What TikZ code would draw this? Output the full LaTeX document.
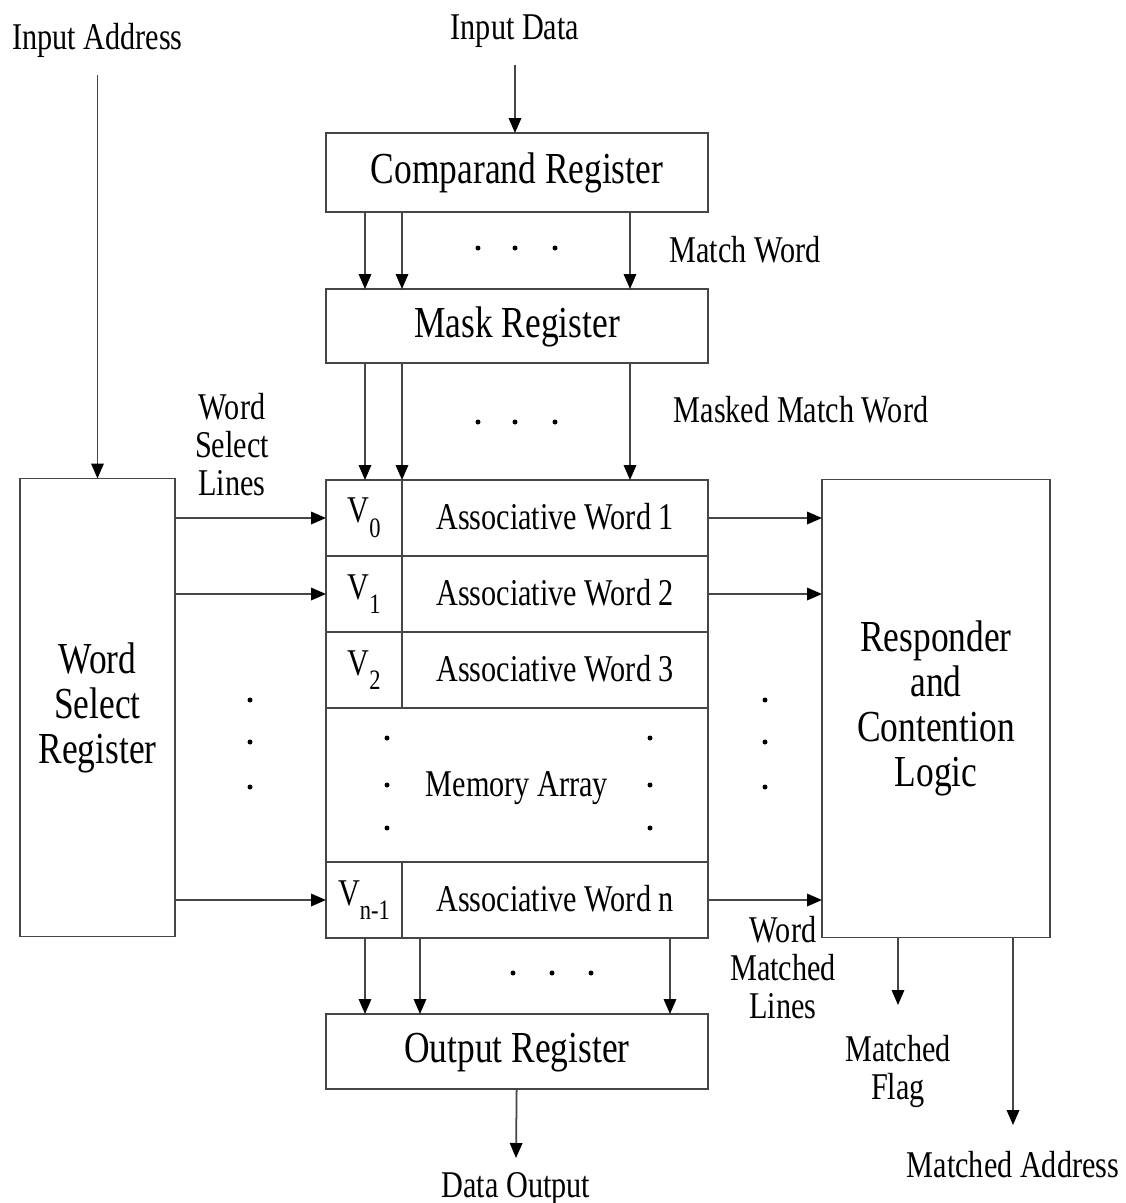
\documentclass[tikz,border=0pt]{standalone}
\usepackage{fontspec}
\setmainfont{Liberation Serif}[FakeStretch=0.8]
\usetikzlibrary{arrows.meta, positioning}
\definecolor{camline}{RGB}{70,70,70}
\newcommand{\bigtxt}{\fontsize{12.6}{12.8}\selectfont}
\newcommand{\midtxt}{\fontsize{10.75}{10.8}\selectfont}
\newcommand{\vsub}[1]{V\raisebox{-0.85ex}{\fontsize{8}{8}\selectfont #1}}
\tikzset{
    reg/.style={draw=camline, line width=0.5pt, minimum width=3.82cm, minimum height=0.76cm,
                inner sep=0pt, outer sep=0pt, font=\bigtxt, text height=0.7em, text depth=0.05em},
    vcell/.style={draw=camline, line width=0.5pt, minimum width=0.76cm, minimum height=0.76cm,
                  inner sep=0pt, outer sep=0pt, font=\midtxt},
    wcell/.style={vcell, minimum width=3.06cm, text height=0.7em, text depth=0.05em},
    tall/.style={draw=camline, line width=0.5pt, inner sep=0pt, outer sep=0pt, font=\bigtxt,
                 align=center, minimum height=4.58cm},
    lbl/.style={font=\midtxt, align=center, inner sep=1pt},
    arrow/.style={-{Triangle[length=1.5mm, width=1.25mm, color=black]}, camline, line width=0.5pt},
    dot/.style={fill=black},
}

\begin{document}
\begin{tikzpicture}
    \useasboundingbox (0,0) rectangle (11.25,-12.03);
    % registers in the middle column
    \node[reg, minimum height=0.79cm] (cmp) at (5.17,-1.725) {Comparand Register};
    \node[reg, minimum height=0.74cm, below=0.77cm of cmp] (mask) {Mask Register};
    \node[vcell, below=1.17cm of mask.south west, anchor=north west] (v0) {\vsub{0}};
    \node[wcell, right=0cm of v0] (w1) {Associative Word 1};
    \node[vcell, below=0cm of v0] (v1) {\vsub{1}};
    \node[wcell, right=0cm of v1] (w2) {Associative Word 2};
    \node[vcell, below=0cm of v1] (v2) {\vsub{2}};
    \node[wcell, right=0cm of v2] (w3) {Associative Word 3};
    \node[reg, font=\midtxt, minimum height=1.54cm, below=0cm of v2.south west, anchor=north west] (arr) {Memory Array};
    \node[vcell, below=0cm of arr.south west, anchor=north west] (vn) {\vsub{n-1}};
    \node[wcell, right=0cm of vn] (wn) {Associative Word n};
    \node[reg, minimum height=0.75cm, below=1.52cm of arr] (out) {Output Register};
    % side blocks
    \node[tall, minimum width=1.55cm] (wsr) at (0.975,-7.075) {Word\\Select\\Register};
    \node[tall, minimum width=2.28cm] (resp) at (9.36,-7.085) {Responder\\and\\Contention\\Logic};

    % free ends
    \coordinate (addrin) at (0.975,-0.75);
    \coordinate (datain) at (5.15,-0.65);
    \coordinate (douttip) at (5.16,-11.58);
    \coordinate (flagtip) at (8.98,-10.05);
    \coordinate (addrtip) at (10.13,-11.25);
    \node[lbl, above=0.13cm of addrin] (inaddr) {Input Address};
    \node[lbl, above=0.13cm of datain] (indata) {Input Data};
    \node[lbl, below=0.1cm of douttip] (dout) {Data Output};
    \node[lbl, below=0.26cm of flagtip] (flag) {Matched\\Flag};
    \node[lbl, below=0.22cm of addrtip] (maddr) {Matched Address};
    \node[lbl] (mword) at (7.45,-2.50) {Match Word};
    \node[lbl] (mmword) at (8.01,-4.10) {Masked Match Word};
    \node[lbl] (wsl) at (2.32,-4.45) {Word\\Select\\Lines};
    \node[lbl] (wml) at (7.83,-9.68) {Word\\Matched\\Lines};

    \draw[arrow] (addrin) -- (wsr.north -| addrin);
    \draw[arrow] (datain) -- (cmp.north -| datain);
    \foreach \x in {3.65,4.02,6.30} {
        \draw[arrow] (cmp.south -| \x,0) -- (mask.north -| \x,0);
        \draw[arrow] (mask.south -| \x,0) -- (v0.north -| \x,0);
    }
    \foreach \x in {3.65,4.20,6.70}
        \draw[arrow] (vn.south -| \x,0) -- (out.north -| \x,0);
    \foreach \v/\w in {v0/w1, v1/w2, vn/wn} {
        \draw[arrow] (wsr.east |- \v) -- (\v.west);
        \draw[arrow] (\w.east) -- (resp.west |- \w);
    }
    \draw[arrow] (out) -- (douttip);
    \draw[arrow] (resp.south -| flagtip) -- (flagtip);
    \draw[arrow] (resp.south -| addrtip) -- (addrtip);

    % ellipsis dots
    \foreach \x in {4.78,5.15,5.55} {
        \fill[dot] (\x,-2.48) circle (0.025);
        \fill[dot] (\x,-4.22) circle (0.025);
    }
    \foreach \x in {5.13,5.52,5.91}
        \fill[dot] (\x,-9.73) circle (0.025);
    \foreach \y in {-7.00,-7.42,-7.87} {
        \fill[dot] (2.50,\y) circle (0.025);
        \fill[dot] (7.65,\y) circle (0.025);
    }
    \foreach \y in {-7.38,-7.85,-8.28} {
        \fill[dot] (3.87,\y) circle (0.025);
        \fill[dot] (6.50,\y) circle (0.025);
    }
\end{tikzpicture}
\end{document}
